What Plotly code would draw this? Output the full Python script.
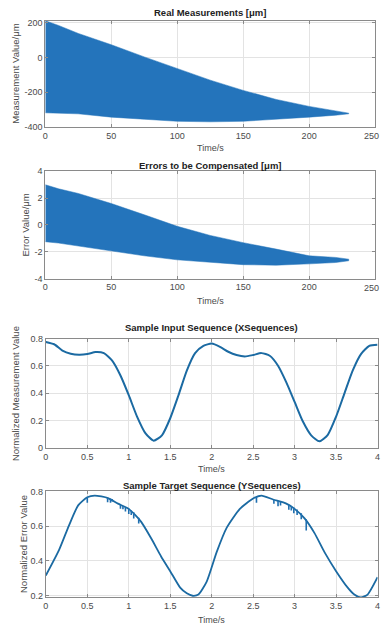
import plotly.graph_objects as go

# ---------------- data ----------------
# Panel 1: Real measurements, envelope of the dense oscillation
t_env1 = [0, 10, 25, 50, 75, 100, 125, 150, 175, 200, 220, 230]
meas_upper = [212, 185, 139, 74, 4, -65, -130, -189, -241, -281, -305, -320]
meas_lower = [-318, -320, -324, -343, -355, -367, -370, -367, -355, -343, -332, -324]

# Panel 2: Errors to be compensated, envelope of the dense oscillation
t_env2 = [0, 10, 25, 50, 75, 100, 125, 150, 175, 200, 220, 230]
err_upper = [3.0, 2.7, 2.35, 1.6, 0.76, -0.1, -0.78, -1.32, -1.8, -2.3, -2.42, -2.55]
err_lower = [-1.25, -1.35, -1.56, -1.93, -2.3, -2.6, -2.79, -2.96, -3.0, -2.9, -2.8, -2.67]

# Panel 3: Sample input sequence
t_x = [0, 0.1, 0.2, 0.3, 0.4, 0.5, 0.6, 0.7, 0.8, 0.9, 1.0, 1.1, 1.2, 1.3, 1.4,
       1.5, 1.6, 1.7, 1.8, 1.9, 2.0, 2.1, 2.2, 2.3, 2.4, 2.5, 2.6, 2.7, 2.8, 2.9,
       3.0, 3.1, 3.2, 3.3, 3.4, 3.5, 3.6, 3.7, 3.8, 3.9, 4.0]
x_seq = [0.776, 0.759, 0.713, 0.690, 0.682, 0.687, 0.702, 0.694, 0.639, 0.530,
         0.386, 0.229, 0.108, 0.053, 0.092, 0.217, 0.386, 0.566, 0.694, 0.747,
         0.764, 0.740, 0.704, 0.680, 0.670, 0.680, 0.694, 0.675, 0.602, 0.480,
         0.337, 0.193, 0.092, 0.048, 0.096, 0.229, 0.398, 0.566, 0.687, 0.747,
         0.755]

# Panel 4: Sample target sequence (smooth part)
t_y = [0, 0.16, 0.28, 0.39, 0.5, 0.59, 0.75, 0.87, 1.0, 1.15, 1.27, 1.39, 1.5,
       1.62, 1.7, 1.77, 1.84, 1.94, 2.06, 2.18, 2.34, 2.5, 2.6, 2.74, 2.9, 3.0,
       3.12, 3.24, 3.36, 3.5, 3.64, 3.72, 3.8, 3.88, 4.0]
y_seq = [0.315, 0.463, 0.605, 0.72, 0.767, 0.777, 0.762, 0.73, 0.70, 0.625,
         0.53, 0.425, 0.34, 0.245, 0.212, 0.198, 0.205, 0.28, 0.45, 0.59, 0.70,
         0.76, 0.777, 0.754, 0.73, 0.70, 0.645, 0.56, 0.45, 0.34, 0.245, 0.205,
         0.188, 0.205, 0.305]
# Panel 4: small downward glitches (time, from value, to value)
glitch_t = [0.50, 0.745, 0.78, 0.80, 0.90, 0.93, 0.96, 1.00, 1.03, 1.06, 1.12,
            2.54, 2.75, 2.80, 2.83, 2.93, 2.96, 2.99, 3.03, 3.08, 3.14]
glitch_top = [0.767, 0.762, 0.760, 0.757, 0.722, 0.716, 0.708, 0.700, 0.690, 0.680, 0.648,
              0.768, 0.753, 0.745, 0.740, 0.724, 0.716, 0.708, 0.696, 0.675, 0.640]
glitch_bot = [0.735, 0.738, 0.735, 0.742, 0.700, 0.698, 0.685, 0.670, 0.665, 0.645, 0.615,
              0.735, 0.730, 0.715, 0.720, 0.695, 0.690, 0.675, 0.665, 0.640, 0.575]

titles = ["Real Measurements [μm]", "Errors to be Compensated [μm]",
          "Sample Input Sequence (XSequences)", "Sample Target Sequence (YSequences)"]
y_titles = ["Measurement Value/μm", "Error Value/μm",
            "Normalized Measurement Value", "Normalized Error Value"]

# ---------------- figure ----------------
W, H = 384, 633
BLUE = "#2474bb"
LINE = "#1b6aa2"

fig = go.Figure()

fig.add_trace(go.Scatter(x=t_env1 + t_env1[::-1], y=meas_upper + meas_lower[::-1],
                         fill="toself", fillcolor=BLUE, mode="lines",
                         line=dict(color=BLUE, width=0.5), xaxis="x", yaxis="y",
                         hoverinfo="skip"))
fig.add_trace(go.Scatter(x=t_env2 + t_env2[::-1], y=err_upper + err_lower[::-1],
                         fill="toself", fillcolor=BLUE, mode="lines",
                         line=dict(color=BLUE, width=0.5), xaxis="x2", yaxis="y2",
                         hoverinfo="skip"))
fig.add_trace(go.Scatter(x=t_x, y=x_seq, mode="lines",
                         line=dict(color=LINE, width=2, shape="spline", smoothing=0.6),
                         xaxis="x3", yaxis="y3"))
fig.add_trace(go.Scatter(x=t_y, y=y_seq, mode="lines",
                         line=dict(color=LINE, width=1.8, shape="spline", smoothing=0.6),
                         xaxis="x4", yaxis="y4"))
gx, gy = [], []
for t, a, b in zip(glitch_t, glitch_top, glitch_bot):
    gx += [t, t, None]
    gy += [a, b, None]
fig.add_trace(go.Scatter(x=gx, y=gy, mode="lines", line=dict(color="#1f6fb0", width=1.6),
                         xaxis="x4", yaxis="y4", connectgaps=False))

# pixel boxes: (left, right, top, bottom)
boxes = [(43, 378, 16, 124), (43, 378, 169, 278), (43.5, 380.5, 339, 450), (43.5, 380.5, 494, 602)]
xranges = [[0, 250], [0, 250], [0, 4], [0, 4]]
yranges = [[-400, 212], [-4, 4], [0, 0.8], [0.188, 0.802]]
xticks = [[0, 50, 100, 150, 200, 250]] * 2 + [[0, 0.5, 1, 1.5, 2, 2.5, 3, 3.5, 4]] * 2
xtext = [["0", "50", "100", "150", "200", ""]] * 2 + [["0", "0.5", "1", "1.5", "2", "2.5", "3", "3.5", "4"]] * 2
yticks = [[-400, -200, 0, 200], [-4, -2, 0, 2, 4], [0, 0.2, 0.4, 0.6, 0.8], [0.2, 0.4, 0.6, 0.8]]
ytext = [["-400", "-200", "0", "200"], ["-4", "-2", "0", "2", "4"],
         ["0", "0.2", "0.4", "0.6", "0.8"], ["0.2", "0.4", "0.6", "0.8"]]
title_y = [8, 163, 328, 488]
xtitle_y = [145, 301, 471, 625]
ytitle_x = [13, 23, 12, 21]

FONT = "Liberation Sans, Arial, sans-serif"
TICKC = "#4a4a4a"
layout = dict(width=W, height=H, margin=dict(l=0, r=0, t=0, b=0),
              paper_bgcolor="white", plot_bgcolor="white", showlegend=False,
              font=dict(family=FONT, size=9, color=TICKC))
annotations = []
for i in range(4):
    l, r, t, b = boxes[i]
    sx = "" if i == 0 else str(i + 1)
    common = dict(showline=True, linecolor="#8a8a8a", linewidth=1, mirror="ticks",
                  ticks="inside", ticklen=3, tickcolor="#8a8a8a", showgrid=True,
                  gridcolor="#e3e3e3", gridwidth=1, zeroline=False,
                  ticklabeloverflow="allow",
                  tickfont=dict(family=FONT, size=9, color=TICKC))
    layout["xaxis" + sx] = dict(domain=[l / W, r / W], range=xranges[i], anchor="y" + sx,
                                tickvals=xticks[i], ticktext=xtext[i], **common)
    layout["yaxis" + sx] = dict(domain=[1 - b / H, 1 - t / H], range=yranges[i], anchor="x" + sx,
                                tickvals=yticks[i], ticktext=ytext[i], **common)
    cx = (l + r) / 2 / W
    annotations.append(dict(text="<b>" + titles[i] + "</b>", x=cx, y=1 - title_y[i] / H,
                            xref="paper", yref="paper", showarrow=False,
                            font=dict(family=FONT, size=9.5, color="#222"),
                            xanchor="center", yanchor="middle"))
    annotations.append(dict(text="Time/s", x=cx, y=1 - xtitle_y[i] / H,
                            xref="paper", yref="paper", showarrow=False,
                            font=dict(family=FONT, size=9, color=TICKC),
                            xanchor="center", yanchor="middle"))
    annotations.append(dict(text=y_titles[i], x=ytitle_x[i] / W, y=1 - (t + b) / 2 / H,
                            xref="paper", yref="paper", showarrow=False, textangle=-90,
                            font=dict(family=FONT, size=9.5, color=TICKC),
                            xanchor="center", yanchor="middle"))
    if i < 2:
        # last x tick label "250", kept inside the page edge
        annotations.append(dict(text="250", x=1.0, y=1 - b / H, xref="paper", yref="paper",
                                showarrow=False, xanchor="right", yanchor="top", yshift=-2,
                                font=dict(family=FONT, size=9, color=TICKC)))
layout["annotations"] = annotations
fig.update_layout(**layout)
fig.write_html("out.html", config={"displayModeBar": False},
               post_script="document.body.style.margin='0';document.body.style.overflow='hidden';")
